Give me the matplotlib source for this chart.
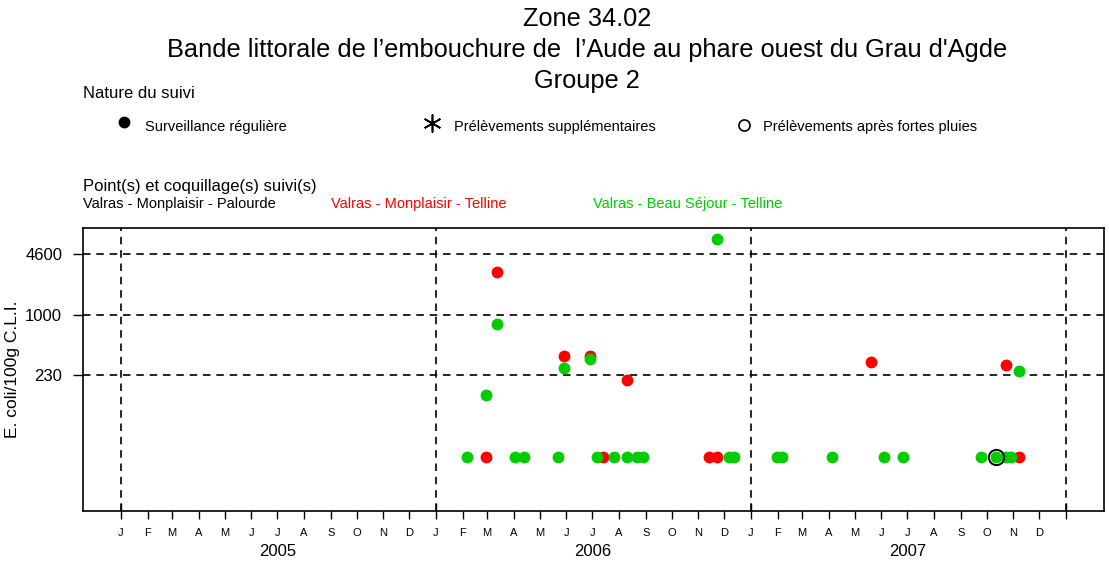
import matplotlib
matplotlib.use("Agg")
import matplotlib.pyplot as plt
import matplotlib.dates as mdates
from matplotlib.lines import Line2D
from datetime import datetime

plt.rcParams['font.family'] = ['Liberation Sans', 'DejaVu Sans']

# ---------------- data ----------------
red_dates = ["2006-02-28", "2006-03-13", "2006-05-29", "2006-06-28", "2006-07-13",
             "2006-08-10", "2006-11-13", "2006-11-23", "2007-05-20", "2007-10-23",
             "2007-11-07"]
red_values = [30, 2900, 360, 360, 30, 200, 30, 30, 310, 290, 30]

green_dates = ["2006-02-06", "2006-02-28", "2006-03-13", "2006-04-03", "2006-04-13",
               "2006-05-22", "2006-05-29", "2006-06-28", "2006-07-07", "2006-07-26",
               "2006-08-10", "2006-08-22", "2006-08-29", "2006-11-23", "2006-12-06",
               "2006-12-12", "2007-01-31", "2007-02-06", "2007-04-05", "2007-06-04",
               "2007-06-26", "2007-09-25", "2007-10-12", "2007-10-23", "2007-10-29",
               "2007-11-07"]
green_values = [30, 140, 800, 30, 30,
                30, 270, 340, 30, 30,
                30, 30, 30, 6600, 30,
                30, 30, 30, 30, 30,
                30, 30, 30, 30, 30,
                250]
# sampling after heavy rain (open circle)
rain_dates = ["2007-10-12"]
rain_values = [30]

thresholds = [230, 1000, 4600]
years = [2005, 2006, 2007]
month_labels = ["J", "F", "M", "A", "M", "J", "J", "A", "S", "O", "N", "D"]

title_lines = ["Zone 34.02",
               "Bande littorale de l\u2019embouchure de  l\u2019Aude au phare ouest du Grau d'Agde",
               "Groupe 2"]

# ---------------- figure ----------------
W, H = 1109, 563
fig = plt.figure(figsize=(W / 100, H / 100), dpi=100)

def fx(px):
    return px / W

def fy(py):
    return 1 - py / H

ax_l, ax_r, ax_t, ax_b = 83, 1104, 228, 511
ax = fig.add_axes([fx(ax_l), fy(ax_b), fx(ax_r) - fx(ax_l), fy(ax_t) - fy(ax_b)])

to_dt = lambda s: datetime.strptime(s, "%Y-%m-%d")
rd = [to_dt(s) for s in red_dates]
gd = [to_dt(s) for s in green_dates]
cd = [to_dt(s) for s in rain_dates]

RED = "#FF0000"
GREEN = "#00CC00"

ax.set_yscale("log")
ax.set_ylim(7.85, 8650)
ax.set_xlim(datetime(2004, 11, 18), datetime(2008, 2, 14))

# grid lines
for t in thresholds:
    ax.axhline(t, color="black", lw=1.2, ls=(0, (4.5, 3.5)), zorder=1)
for y in years + [years[-1] + 1]:
    ax.axvline(datetime(y, 1, 1), color="black", lw=1.2, ls=(0, (4.5, 3.5)), zorder=1)

ax.plot(rd, red_values, "o", color=RED, ms=7.5, mec=RED, zorder=3, ls="none")
ax.plot(gd, green_values, "o", color=GREEN, ms=7.5, mec=GREEN, zorder=4, ls="none")
ax.plot(cd, rain_values, "o", mfc="none", mec="black", ms=11, mew=1.4, zorder=5, ls="none")

# y axis
ax.set_yticks(thresholds)
ax.set_yticklabels([str(t) for t in thresholds])
ax.yaxis.set_minor_locator(matplotlib.ticker.NullLocator())
ax.tick_params(axis="y", which="major", direction="out", length=7, width=1, labelsize=12, pad=8)
ax.set_ylabel("E. coli/100g C.L.I.", fontsize=12.5)
ax.yaxis.set_label_coords((20 - ax_l) / (ax_r - ax_l), 0.5)

# x axis
major = [datetime(y, 1, 1) for y in years + [years[-1] + 1]]
minor = [datetime(y, m, 1) for y in years for m in range(1, 13)]
ax.set_xticks(major)
ax.set_xticklabels([""] * len(major))
ax.set_xticks(minor, minor=True)
ax.set_xticklabels([], minor=True)
ax.tick_params(axis="x", which="major", direction="inout", length=12, width=1)
ax.tick_params(axis="x", which="minor", direction="out", length=6, width=1)

for y in years:
    for m, lab in enumerate(month_labels, start=1):
        ax.annotate(lab, xy=(mdates.date2num(datetime(y, m, 1)), 0), xycoords=("data", "axes fraction"),
                    xytext=(0, -22), textcoords="offset pixels", ha="center", va="center", fontsize=8)
    mid = mdates.date2num(datetime(y, 1, 1)) + 182
    ax.annotate(str(y), xy=(mid, 0), xycoords=("data", "axes fraction"),
                xytext=(0, -40), textcoords="offset pixels", ha="center", va="center", fontsize=12)

for s in ax.spines.values():
    s.set_linewidth(1.2)

# ---------------- titles ----------------
for i, line in enumerate(title_lines):
    fig.text(fx(587), fy(19 + 31 * i), line, ha="center", va="center", fontsize=18.3)

# ---------------- legends ----------------
fig.text(fx(83), fy(93), "Nature du suivi", ha="left", va="center", fontsize=12)
fig.add_artist(Line2D([fx(124)], [fy(122)], marker="o", color="black", ms=7.5, transform=fig.transFigure))
fig.text(fx(145), fy(127), "Surveillance r\u00e9guli\u00e8re", ha="left", va="center", fontsize=10.5)
fig.add_artist(Line2D([fx(432)], [fy(123)], marker=(6, 2, 0), color="black", ms=13, mew=1.2,
                      transform=fig.transFigure))
fig.text(fx(454), fy(127), "Pr\u00e9l\u00e8vements suppl\u00e9mentaires", ha="left", va="center", fontsize=10.5)
fig.add_artist(Line2D([fx(744)], [fy(125)], marker="o", mfc="none", mec="black", ms=8, mew=1.2,
                      transform=fig.transFigure))
fig.text(fx(763), fy(127), "Pr\u00e9l\u00e8vements apr\u00e8s fortes pluies", ha="left", va="center", fontsize=10.5)

fig.text(fx(83), fy(186), "Point(s) et coquillage(s) suivi(s)", ha="left", va="center", fontsize=12)
fig.text(fx(83), fy(204), "Valras - Monplaisir - Palourde", ha="left", va="center", fontsize=10.5, color="black")
fig.text(fx(331), fy(204), "Valras - Monplaisir - Telline", ha="left", va="center", fontsize=10.5, color=RED)
fig.text(fx(593), fy(204), "Valras - Beau S\u00e9jour - Telline", ha="left", va="center", fontsize=10.5, color=GREEN)

fig.savefig("out.png", dpi=100)
